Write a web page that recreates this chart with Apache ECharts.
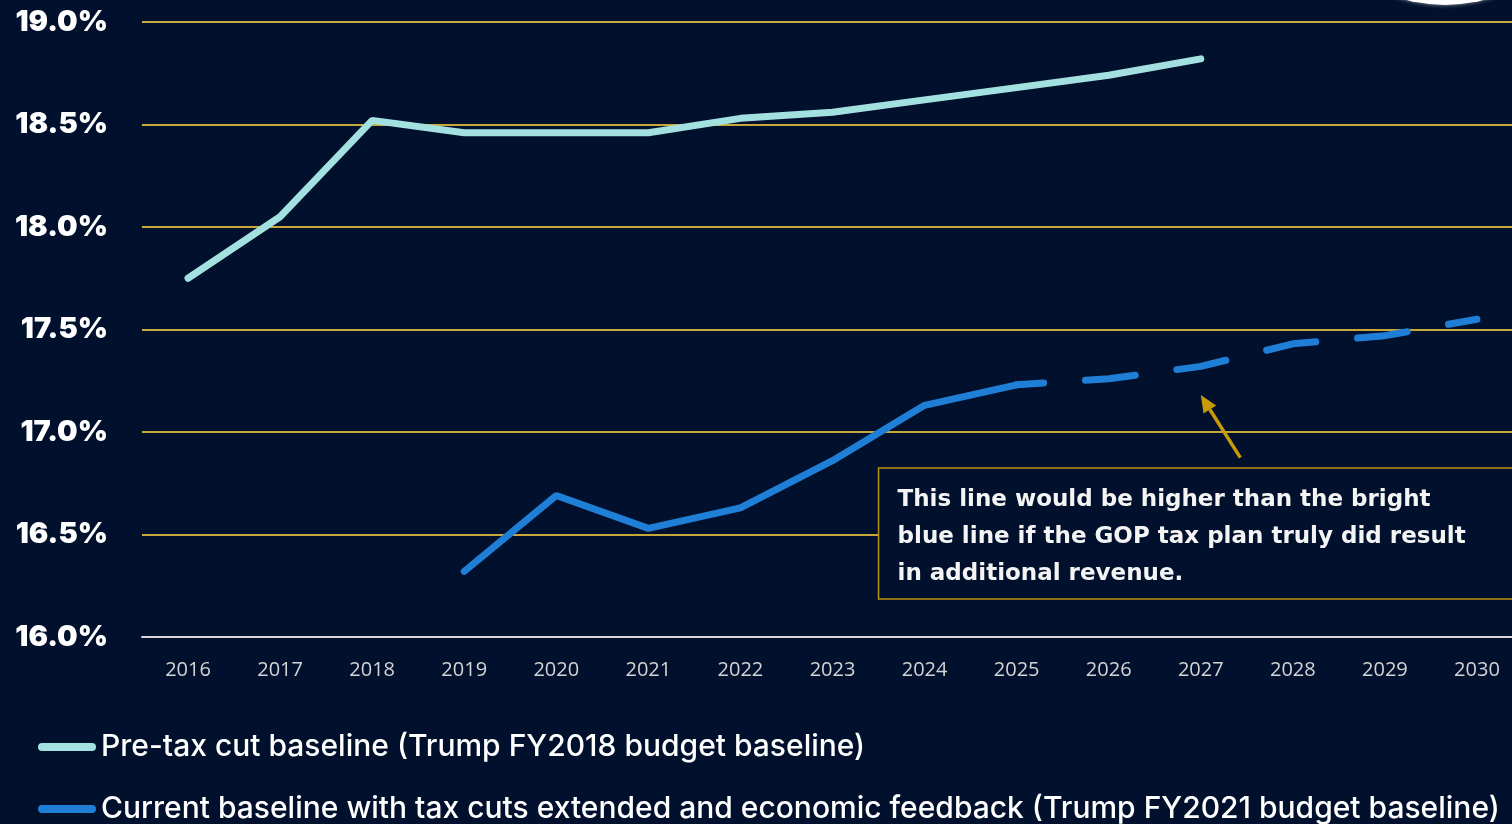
<!DOCTYPE html>
<html>
<head>
<meta charset="utf-8">
<title>Federal revenue as a share of GDP</title>
<script src="https://cdn.jsdelivr.net/npm/echarts@6/dist/echarts.min.js"></script>
<style>
  html, body { margin: 0; padding: 0; background: #01102c; }
  #chart { width: 1512px; height: 824px; }
</style>
</head>
<body>
<div id="chart"></div>
<script>
// Fiscal years on the x axis
const years = ['2016', '2017', '2018', '2019', '2020', '2021', '2022', '2023',
               '2024', '2025', '2026', '2027', '2028', '2029', '2030'];

// Revenue as % of GDP, pre-tax-cut baseline (FY2018 budget)
const preTaxCut = [17.75, 18.05, 18.52, 18.46, 18.46, 18.46, 18.53, 18.56,
                   18.62, 18.68, 18.74, 18.82, null, null, null];

// Current baseline (FY2021 budget), actual/near-term segment
const currentSolid = [null, null, null, 16.32, 16.69, 16.53, 16.63, 16.86,
                      17.13, 17.23, null, null, null, null, null];

// Current baseline (FY2021 budget), projected segment
const currentProjected = [null, null, null, null, null, null, null, null,
                          null, 17.23, 17.26, 17.32, 17.43, 17.47, 17.55];

const seriesNames = [
  'Pre-tax cut baseline (Trump FY2018 budget baseline)',
  'Current baseline with tax cuts extended and economic feedback (Trump FY2021 budget baseline)'
];

const noteLines = [
  'This line would be higher than the bright',
  'blue line if the GOP tax plan truly did result',
  'in additional revenue.'
];

const BG = '#01102c';
const GOLD = '#c8a73a';
const ARROW = '#c79b06';
const PALE = '#a3e1e0';
const BLUE = '#1f7fd6';
const capsule = 'path://M4,0 H54 A4,4 0 0 1 54,8 H4 A4,4 0 0 1 4,0 Z';

const legendText = { color: '#ffffff', fontFamily: 'Inter', fontWeight: 500, fontSize: 30 };

const chart = echarts.init(document.getElementById('chart'), null, { renderer: 'canvas' });

chart.setOption({
  backgroundColor: BG,
  animation: false,
  // plot area runs a little past the right edge of the page
  grid: { left: 142, width: 1381, top: 22, bottom: 187, outerBoundsMode: 'none', containLabel: false },
  xAxis: {
    type: 'category',
    data: years,
    boundaryGap: true,
    axisLine: { show: true, lineStyle: { color: '#d6d6d6', width: 2 } },
    axisTick: { show: false },
    axisLabel: {
      color: '#d4d4d4',
      fontFamily: 'Open Sans',
      fontSize: 20,
      margin: 23
    },
    splitLine: { show: false },
    z: 5
  },
  yAxis: {
    type: 'value',
    min: 16,
    max: 19,
    interval: 0.5,
    axisLine: { show: false },
    axisTick: { show: false },
    axisLabel: {
      color: '#ffffff',
      fontFamily: 'Inter',
      fontWeight: 900,
      fontSize: 29,
      margin: 34,
      formatter: v => v.toFixed(1) + '%'
    },
    splitLine: { show: true, lineStyle: { color: GOLD, width: 2 } }
  },
  legend: [
    {
      data: [{ name: seriesNames[0], icon: capsule }],
      left: 38, top: 732, padding: 0,
      itemWidth: 58, itemHeight: 8, itemGap: 0,
      textStyle: legendText,
      selectedMode: false
    },
    {
      data: [{ name: seriesNames[1], icon: capsule }],
      left: 38, top: 794, padding: 0,
      itemWidth: 58, itemHeight: 8, itemGap: 0,
      textStyle: legendText,
      selectedMode: false
    }
  ],
  series: [
    {
      name: seriesNames[0],
      type: 'line',
      data: preTaxCut,
      symbol: 'none',
      color: PALE,
      lineStyle: { color: PALE, width: 7, cap: 'round' },
      z: 3
    },
    {
      name: seriesNames[1],
      type: 'line',
      data: currentSolid,
      symbol: 'none',
      color: BLUE,
      lineStyle: { color: BLUE, width: 7, cap: 'round' },
      z: 3
    },
    {
      name: 'projected',
      type: 'line',
      data: currentProjected,
      symbol: 'none',
      color: BLUE,
      lineStyle: { color: BLUE, width: 7, cap: 'round', type: [50, 42], dashOffset: 23 },
      z: 3
    }
  ]
});

// Place the note box and its arrow relative to the axes
function px(idx, val) {
  const i0 = Math.floor(idx);
  const f = idx - i0;
  const a = chart.convertToPixel({ gridIndex: 0 }, [i0, val]);
  const b = chart.convertToPixel({ gridIndex: 0 }, [i0 + 1, val]);
  return [a[0] + (b[0] - a[0]) * f, a[1]];
}

const boxTL = px(7.5, 16.825);
const boxBR = px(14.6, 16.185);
const tail = px(11.43, 16.875);
const tip = px(11.0, 17.18);

const ang = Math.atan2(tip[1] - tail[1], tip[0] - tail[0]);
const headLen = 17, headHalf = 7.5;
const base = [tip[0] - headLen * Math.cos(ang), tip[1] - headLen * Math.sin(ang)];
const perp = [-Math.sin(ang), Math.cos(ang)];

chart.setOption({
  graphic: [
    {
      type: 'circle',
      shape: { cx: 1445, cy: -145, r: 150 },
      style: { fill: '#ffffff', shadowBlur: 4, shadowColor: 'rgba(255,255,255,0.6)' },
      z: 10
    },
    {
      type: 'rect',
      shape: { x: boxTL[0], y: boxTL[1], width: boxBR[0] - boxTL[0], height: boxBR[1] - boxTL[1] },
      style: { fill: BG, stroke: '#b8920c', lineWidth: 1.5 },
      z: 10
    },
    {
      type: 'text',
      x: boxTL[0] + 19,
      y: boxTL[1] + 14,
      style: {
        text: noteLines.join('\n'),
        fill: '#f4f4f4',
        font: 'bold 23px "DejaVu Sans"',
        lineHeight: 37
      },
      z: 11
    },
    {
      type: 'line',
      shape: { x1: tail[0], y1: tail[1], x2: base[0], y2: base[1] },
      style: { stroke: ARROW, lineWidth: 3.5 },
      z: 10
    },
    {
      type: 'polygon',
      shape: {
        points: [
          tip,
          [base[0] + perp[0] * headHalf, base[1] + perp[1] * headHalf],
          [base[0] - perp[0] * headHalf, base[1] - perp[1] * headHalf]
        ]
      },
      style: { fill: ARROW },
      z: 10
    }
  ]
});
</script>
</body>
</html>
